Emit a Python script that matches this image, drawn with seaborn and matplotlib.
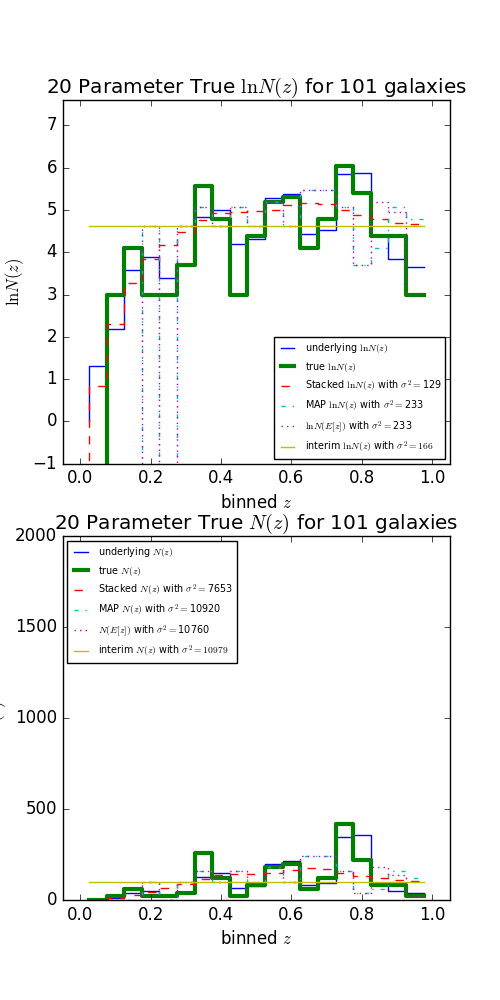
import matplotlib
matplotlib.use("Agg")
import matplotlib.pyplot as plt
import seaborn as sns
import numpy as np

# bin centres (steps drawn "pre": value i spans z[i-1]..z[i])
z_bins = [0.025, 0.075, 0.125, 0.175, 0.225, 0.275, 0.325, 0.375, 0.425, 0.475,
          0.525, 0.575, 0.625, 0.675, 0.725, 0.775, 0.825, 0.875, 0.925, 0.975]

# ln N(z) values; -10 = empty bin (below the axis)
ln_underlying = [0.00, 1.31, 2.19, 3.59, 3.89, 3.38, 3.70, 4.84, 4.99, 4.20,
                 4.31, 5.29, 5.37, 4.44, 4.52, 5.84, 5.88, 4.38, 3.85, 3.66]
ln_true = [-10.0, -10.0, 3.00, 4.09, 3.00, 3.00, 3.69, 5.56, 4.79, 3.00,
           4.38, 5.19, 5.30, 4.09, 4.79, 6.04, 5.39, 4.38, 4.38, 3.00]
ln_stacked = [-10.0, 0.83, 2.31, 3.28, 3.83, 4.16, 4.49, 4.77, 4.92, 4.95,
              4.97, 5.00, 5.11, 5.16, 5.13, 5.01, 4.87, 4.78, 4.70, 4.67]
ln_map = [-10.0, -10.0, -10.0, -10.0, 4.61, -10.0, 4.61, 5.08, 4.61, 5.08,
          4.61, 5.19, 4.61, 5.48, 5.48, 5.08, 3.69, 4.09, 5.08, 4.79]
ln_expz = [-10.0, -10.0, -10.0, -10.0, 4.61, -10.0, 4.61, 5.08, 4.61, 5.08,
           4.61, 5.19, 4.61, 5.48, 5.48, 5.08, 3.69, 5.19, 4.94, 3.00]
ln_interim = [4.62] * 20

labels_ln = [r'underlying $\mathrm{ln}N(z)$',
             r'true $\mathrm{ln}N(z)$',
             r'Stacked $\mathrm{ln}N(z)$ with $\sigma^{2}=$129',
             r'MAP $\mathrm{ln}N(z)$ with $\sigma^{2}=$233',
             r'$\mathrm{ln}N(E[z])$ with $\sigma^{2}=$233',
             r'interim $\mathrm{ln}N(z)$ with $\sigma^{2}=166$']
labels_n = [r'underlying $N(z)$',
            r'true $N(z)$',
            r'Stacked $N(z)$ with $\sigma^{2}=$7653',
            r'MAP $N(z)$ with $\sigma^{2}=$10920',
            r'$N(E[z])$ with $\sigma^{2}=$10760',
            r'interim $N(z)$ with $\sigma^{2}=10979$']

styles = [('b', '-', 1), ('g', '-', 3), ('r', '--', 1),
          ('c', '-.', 1), ('m', ':', 1), ('y', '-', 1)]

plt.style.use('classic')
fig, (ax1, ax2) = plt.subplots(2, 1, figsize=(5, 10), dpi=100)
fig.patch.set_facecolor('white')

ln_series = [ln_underlying, ln_true, ln_stacked, ln_map, ln_expz, ln_interim]


def draw(ax, series, labels):
    for vals, lab, (c, ls, lw) in zip(series, labels, styles):
        sns.lineplot(x=z_bins, y=vals, ax=ax, color=c, linestyle=ls, linewidth=lw,
                     drawstyle='steps-pre', label=lab, errorbar=None)


# top: ln N(z)
draw(ax1, ln_series, labels_ln)
ax1.set_xlim(-0.05, 1.05)
ax1.set_ylim(-1, np.log(2000))
ax1.set_title(r'20 Parameter True $\mathrm{ln}N(z)$ for 101 galaxies')
ax1.set_xlabel(r'binned $z$')
ax1.set_ylabel(r'$\mathrm{ln}N(z)$')
ax1.legend(loc='lower right', fontsize='xx-small')

# bottom: N(z)
draw(ax2, [np.exp(s) for s in ln_series], labels_n)
ax2.set_xlim(-0.05, 1.05)
ax2.set_ylim(0, 2000)
ax2.set_title(r'20 Parameter True $N(z)$ for 101 galaxies')
ax2.set_xlabel(r'binned $z$')
ax2.set_ylabel(r'$N(z)$')
ax2.legend(loc='upper left', fontsize='xx-small')

fig.savefig('out.png', dpi=100, facecolor='white')
